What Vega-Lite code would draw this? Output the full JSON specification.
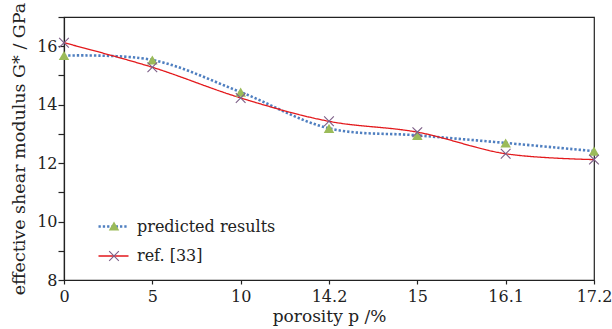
{
  "$schema": "https://vega.github.io/schema/vega-lite/v6.json",
  "autosize": {"type": "none"},
  "padding": {"left": 64, "top": 17, "right": 18, "bottom": 49},
  "width": 530,
  "height": 263,
  "data": {"values": [
    {"p": "0", "series": "predicted results", "G": 15.68},
    {"p": "5", "series": "predicted results", "G": 15.53},
    {"p": "10", "series": "predicted results", "G": 14.43},
    {"p": "14.2", "series": "predicted results", "G": 13.19},
    {"p": "15", "series": "predicted results", "G": 12.95},
    {"p": "16.1", "series": "predicted results", "G": 12.69},
    {"p": "17.2", "series": "predicted results", "G": 12.41},
    {"p": "0", "series": "ref. [33]", "G": 16.12},
    {"p": "5", "series": "ref. [33]", "G": 15.28},
    {"p": "10", "series": "ref. [33]", "G": 14.23},
    {"p": "14.2", "series": "ref. [33]", "G": 13.43},
    {"p": "15", "series": "ref. [33]", "G": 13.06},
    {"p": "16.1", "series": "ref. [33]", "G": 12.32},
    {"p": "17.2", "series": "ref. [33]", "G": 12.12}
  ]},
  "encoding": {
    "x": {
      "field": "p", "type": "ordinal",
      "sort": ["0", "5", "10", "14.2", "15", "16.1", "17.2"],
      "scale": {"type": "point", "padding": 0},
      "axis": {"title": "porosity p /%", "labelAngle": 0, "tickSize": 4, "labelPadding": 4, "titlePadding": 4, "titleFontSize": 17}
    },
    "y": {
      "field": "G", "type": "quantitative",
      "scale": {"domain": [8, 17], "nice": false, "zero": false},
      "axis": {
        "title": "effective shear modulus G* / GPa",
        "values": [8, 9, 10, 11, 12, 13, 14, 15, 16, 17],
        "labelExpr": "datum.value % 2 == 0 ? datum.label : ''",
        "tickSize": 6, "labelPadding": 1, "titlePadding": 8, "titleFontSize": 17.5
      }
    }
  },
  "layer": [
    {
      "mark": {"type": "line", "interpolate": "catmull-rom"},
      "encoding": {
        "stroke": {
          "field": "series", "type": "nominal",
          "scale": {"range": ["#4f7fc0", "#e3191c"]},
          "legend": {"symbolType": "stroke", "symbolSize": 900, "legendX": 33, "legendY": 193, "rowPadding": 5}
        },
        "strokeDash": {
          "field": "series", "type": "nominal",
          "scale": {"range": [[2.3, 2], [1, 0]]},
          "legend": {"symbolType": "stroke", "symbolSize": 900, "legendX": 33, "legendY": 193, "rowPadding": 5}
        },
        "strokeWidth": {
          "field": "series", "type": "nominal",
          "scale": {"range": [2.6, 1.3]},
          "legend": {"symbolType": "stroke", "symbolSize": 900, "legendX": 33, "legendY": 193, "rowPadding": 5}
        }
      }
    },
    {
      "mark": {"type": "point", "filled": true, "size": 110, "opacity": 1},
      "encoding": {
        "shape": {
          "field": "series", "type": "nominal",
          "scale": {"domain": ["predicted results", "ref. [33]"], "range": ["triangle-up", "M-0.85,-1L0,-0.15L0.85,-1L1,-0.85L0.15,0L1,0.85L0.85,1L0,0.15L-0.85,1L-1,0.85L-0.15,0L-1,-0.85Z"]},
          "legend": {"symbolSize": 110, "legendX": 42, "legendY": 201, "labelOpacity": 0, "rowPadding": 14}
        },
        "color": {
          "field": "series", "type": "nominal",
          "scale": {"domain": ["predicted results", "ref. [33]"], "range": ["#9bbb59", "#7d5f88"]},
          "legend": {"symbolSize": 110, "legendX": 42, "legendY": 201, "labelOpacity": 0, "rowPadding": 14}
        }
      }
    }
  ],
  "config": {
    "view": {"stroke": "#222", "strokeWidth": 1.2},
    "font": "DejaVu Serif",
    "axis": {
      "grid": false,
      "domainColor": "#222", "domainWidth": 1.2,
      "tickColor": "#222", "tickWidth": 1.2,
      "labelColor": "#222", "labelFont": "DejaVu Serif", "labelFontSize": 16,
      "titleColor": "#222", "titleFont": "DejaVu Serif", "titleFontWeight": "normal"
    },
    "legend": {
      "orient": "none", "title": null,
      "labelFont": "DejaVu Serif", "labelFontSize": 16, "labelColor": "#222",
      "labelOffset": 7, "symbolStrokeWidth": 1.3
    }
  }
}
